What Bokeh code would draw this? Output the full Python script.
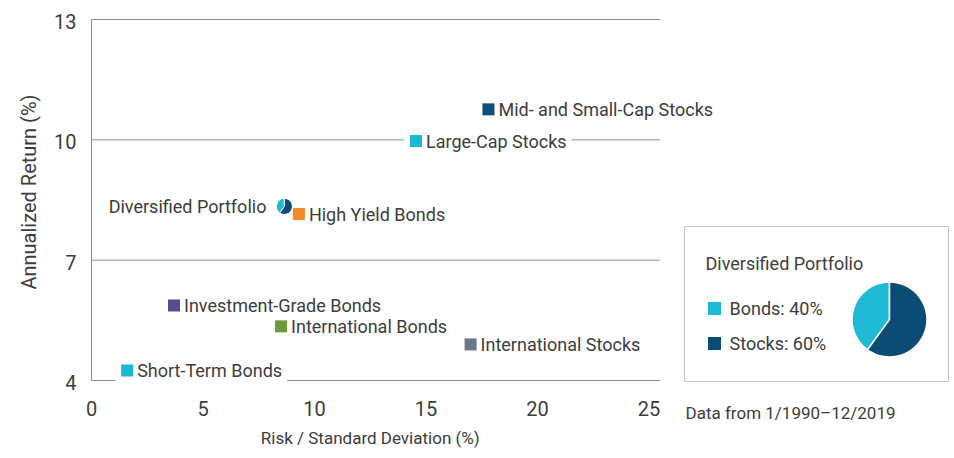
import math
from bokeh.plotting import figure
from bokeh.models import ColumnDataSource, Range1d, Label
from bokeh.embed import file_html
from bokeh.resources import INLINE
from bokeh.core.properties import value

FONT = "Roboto"
TEXT = "#3d3d3d"
AXIS = "#8c8c8c"

# ---- data ----
names = ["Mid- and Small-Cap Stocks", "Large-Cap Stocks", "High Yield Bonds",
         "Investment-Grade Bonds", "International Bonds", "International Stocks",
         "Short-Term Bonds"]
risk = [17.8, 14.55, 9.3, 3.7, 8.5, 17.0, 1.6]
ret = [10.76, 9.97, 8.15, 5.87, 5.35, 4.9, 4.25]
colors = ["#0b4f7c", "#1cb9d7", "#f18a2b", "#5b4a8e", "#6b9a3a", "#6b7887", "#1cb9d7"]

div_name = "Diversified Portfolio"
div_risk = 8.65
div_ret = 8.34

mix_labels = ["Bonds", "Stocks"]
mix_share = [40, 60]
mix_colors = ["#1fbad6", "#0a4c74"]

x_ticks = [0, 5, 10, 15, 20, 25]
y_ticks = [4, 7, 10, 13]
x_title = "Risk / Standard Deviation (%)"
y_title = "Annualized Return (%)"
note = "Data from 1/1990\u201312/2019"

# ---- layout constants (pixels) ----
W, H = 950, 454
PX_X = 22.3            # pixels per risk unit
PX_Y = 40.11           # pixels per return unit
LEFT, TOP, AXIS_Y = 91, 19, 380   # plot area position inside the canvas
X_END = 25.5           # right end of plot area in data units

x0 = -LEFT / PX_X
x1 = (W - LEFT) / PX_X
y1 = y_ticks[-1] + TOP / PX_Y
y0 = y_ticks[0] - (H - AXIS_Y) / PX_Y

p = figure(width=W, height=H, x_range=Range1d(x0, x1), y_range=Range1d(y0, y1),
           output_backend="svg", toolbar_location=None, min_border=0,
           x_axis_location=None, y_axis_location=None)
p.grid.visible = False
p.outline_line_color = None
p.extra_x_ranges = {"px": Range1d(0, W)}
p.extra_y_ranges = {"px": Range1d(H, 0)}

# grid lines + axis lines
p.segment(x0=[x_ticks[0]] * len(y_ticks), x1=[X_END] * len(y_ticks), y0=y_ticks, y1=y_ticks,
          line_color=AXIS, line_width=1)
p.segment(x0=[x_ticks[0]], x1=[x_ticks[0]], y0=[y_ticks[0]], y1=[y_ticks[-1]],
          line_color=AXIS, line_width=1)

# tick labels
p.text(x=x_ticks, y=[y_ticks[0]] * len(x_ticks), text=[str(t) for t in x_ticks],
       y_offset=28, text_align="center", text_baseline="middle",
       text_font=value(FONT), text_font_size="20px", text_color=TEXT)
p.text(x=[x_ticks[0]] * len(y_ticks), y=y_ticks, text=[str(t) for t in y_ticks],
       x_offset=-15, y_offset=2, text_align="right", text_baseline="middle",
       text_font=value(FONT), text_font_size="20px", text_color=TEXT)

# axis titles
p.text(x=[(x_ticks[0] + x_ticks[-1]) / 2], y=[y_ticks[0]], text=[x_title], y_offset=58,
       text_align="center", text_baseline="middle",
       text_font=value(FONT), text_font_size="17px", text_color=TEXT)
p.text(x=[x_ticks[0]], y=[(y_ticks[0] + y_ticks[-1]) / 2], text=[y_title], x_offset=-63,
       y_offset=-8, angle=math.pi / 2, text_align="center", text_baseline="middle",
       text_font=value(FONT), text_font_size="20px", text_color=TEXT)

# point labels (white box also covers the marker area)
for n, x, y in zip(names, risk, ret):
    p.add_layout(Label(x=x, y=y, text=n, x_offset=-12, text_baseline="middle",
                       text_font=FONT, text_font_size="18px", text_color=TEXT,
                       background_fill_color="white",
                       padding=dict(left=22, right=5, top=0, bottom=0)))
p.add_layout(Label(x=div_risk, y=div_ret, text=div_name, x_offset=-18, text_align="right",
                   text_baseline="middle", text_font=FONT, text_font_size="18px",
                   text_color=TEXT))

# markers
starts, ends = [], []
a = math.pi / 2
for s in mix_share:
    starts.append(a)
    a += 2 * math.pi * s / 100
    ends.append(a)

src = ColumnDataSource(dict(x=risk, y=ret, name=names, color=colors))
r = p.scatter("x", "y", source=src, marker="square", size=12, fill_color="color",
              line_color=None)
r.level = "overlay"
w = p.wedge(x=div_risk, y=div_ret, radius=8, radius_units="screen",
            start_angle=starts, end_angle=ends, fill_color=mix_colors,
            line_color="white", line_width=1)
w.level = "overlay"

# ---- legend panel (pixel coordinates from top-left) ----
kw = dict(x_range_name="px", y_range_name="px")
p.quad(left=684, right=948, bottom=381, top=226, fill_color=None, line_color="#c4c4c4",
       line_width=1, **kw)
p.text(x=[705], y=[263], text=[div_name], text_font=value(FONT), text_font_size="18px",
       text_baseline="middle", text_color=TEXT, **kw)
p.scatter(x=[714, 714], y=[308, 343], marker="square", size=13, fill_color=mix_colors,
          line_color=None, **kw)
p.text(x=[729, 729], y=[308, 343],
       text=[f"{l}: {s}%" for l, s in zip(mix_labels, mix_share)],
       text_font=value(FONT), text_font_size="18px", text_baseline="middle",
       text_color=TEXT, **kw)
p.wedge(x=889, y=319, radius=37.5, radius_units="screen",
        start_angle=starts, end_angle=ends,
        fill_color=mix_colors, line_color="white", line_width=1.5, **kw)
p.text(x=[685], y=[412], text=[note], text_font=value(FONT), text_font_size="17px",
       text_baseline="middle", text_color=TEXT, **kw)

open("out.html", "w").write(file_html(p, INLINE))
